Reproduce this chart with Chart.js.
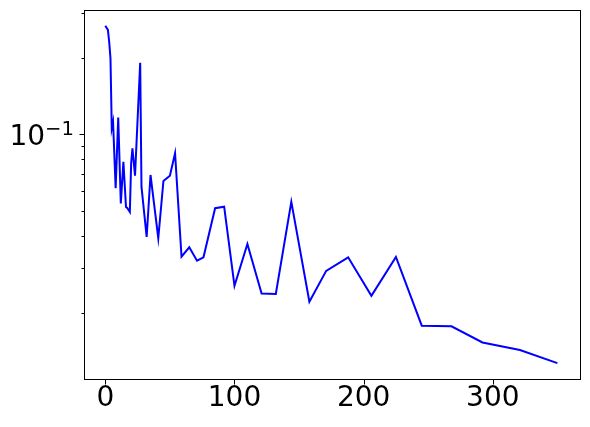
<!DOCTYPE html>
<html>
<head>
<meta charset="utf-8">
<script src="https://cdn.jsdelivr.net/npm/chart.js@4/dist/chart.umd.min.js"></script>
<style>
  html, body { margin: 0; padding: 0; background: #fff; }
  #wrap { width: 590px; height: 427px; }
</style>
</head>
<body>
<div id="wrap"><canvas id="myChart" width="590" height="427"></canvas></div>
<script>
// data
const xs = [0, 2, 3, 4, 5, 6, 8, 10, 12, 14, 16, 17, 19, 20, 21, 23, 27, 28, 32, 35,
  41, 45, 50, 54, 59, 65, 71, 76, 85, 92, 100, 110, 121, 132, 144, 158, 171, 188,
  206, 225, 245, 268, 292, 321, 350];
const ys = [0.267, 0.257, 0.231, 0.199, 0.1057, 0.112, 0.0615, 0.1164, 0.0537, 0.0782,
  0.052, 0.0515, 0.0497, 0.077, 0.0883, 0.069, 0.191, 0.0624, 0.0397, 0.0694,
  0.0392, 0.0657, 0.0689, 0.0844, 0.0332, 0.0361, 0.032, 0.033, 0.0514, 0.0521,
  0.0255, 0.0372, 0.0238, 0.0237, 0.0545, 0.0221, 0.0292, 0.033, 0.0233, 0.0331,
  0.0178, 0.0177, 0.0153, 0.0143, 0.0127];
const xTicks = [0, 100, 200, 300];
const yMajor = [0.1];
const yMinor = [0.02, 0.03, 0.04, 0.05, 0.06, 0.07, 0.08, 0.09, 0.2, 0.3];

const FONT = 'DejaVu Sans';

// axes frame, matplotlib-like tick marks and 10^n labels
const framePlugin = {
  id: 'frame',
  afterDraw(chart) {
    const { ctx, chartArea: a, scales } = chart;
    ctx.save();
    ctx.strokeStyle = '#000';
    ctx.lineWidth = 1;
    const l = Math.round(a.left) + 0.5, r = Math.round(a.right) + 0.5;
    const t = Math.round(a.top) + 0.5, b = Math.round(a.bottom) + 0.5;
    ctx.strokeRect(l, t, r - l, b - t);
    ctx.beginPath();
    xTicks.forEach(v => {
      const px = Math.round(scales.x.getPixelForValue(v)) + 0.5;
      ctx.moveTo(px, b); ctx.lineTo(px, b + 5);
    });
    yMajor.forEach(v => {
      const py = Math.round(scales.y.getPixelForValue(v)) + 0.5;
      ctx.moveTo(l, py); ctx.lineTo(l - 5, py);
    });
    yMinor.forEach(v => {
      const py = Math.round(scales.y.getPixelForValue(v)) + 0.5;
      ctx.moveTo(l, py); ctx.lineTo(l - 3, py);
    });
    ctx.stroke();

    // "10" with a raised smaller exponent, right edge ~10px left of the axis
    ctx.fillStyle = '#000';
    ctx.textBaseline = 'alphabetic';
    ctx.textAlign = 'left';
    yMajor.forEach(v => {
      const py = scales.y.getPixelForValue(v);
      const exp = String(Math.round(Math.log10(v))).replace('-', '\u2212');
      ctx.font = '28px "' + FONT + '"';
      const wBase = ctx.measureText('10').width;
      ctx.font = '19.6px "' + FONT + '"';
      const wExp = ctx.measureText(exp).width;
      const x0 = a.left - 10 - wBase - wExp;
      ctx.font = '28px "' + FONT + '"';
      ctx.fillText('10', x0, py + 11);
      ctx.font = '19.6px "' + FONT + '"';
      ctx.fillText(exp, x0 + wBase, py + 1);
    });
    ctx.restore();
  }
};

const ctx = document.getElementById('myChart').getContext('2d');
new Chart(ctx, {
  type: 'line',
  data: {
    datasets: [{
      data: xs.map((x, i) => ({ x: x, y: ys[i] })),
      borderColor: '#0000ff',
      borderWidth: 2,
      tension: 0,
      pointRadius: 0,
      fill: false
    }]
  },
  options: {
    responsive: false,
    animation: false,
    layout: { padding: { top: 10, right: 10, left: 0, bottom: 0 } },
    plugins: {
      legend: { display: false },
      tooltip: { enabled: false }
    },
    scales: {
      x: {
        type: 'linear',
        min: -16.5,
        max: 367.5,
        grid: { display: false, drawTicks: false },
        border: { display: false },
        afterBuildTicks: s => { s.ticks = xTicks.map(v => ({ value: v })); },
        afterFit: s => { s.height = 48; },
        ticks: {
          color: '#000',
          padding: 3,
          maxRotation: 0,
          font: { family: FONT, size: 28 },
          callback: v => String(v)
        }
      },
      y: {
        type: 'logarithmic',
        min: 0.011,
        max: 0.3076,
        grid: { display: false, drawTicks: false },
        border: { display: false },
        afterBuildTicks: s => { s.ticks = yMajor.map(v => ({ value: v })); },
        afterFit: s => { s.width = 84; s.paddingTop = 0; s.paddingBottom = 0; },
        ticks: {
          display: false
        }
      }
    }
  },
  plugins: [framePlugin]
});
</script>
</body>
</html>
